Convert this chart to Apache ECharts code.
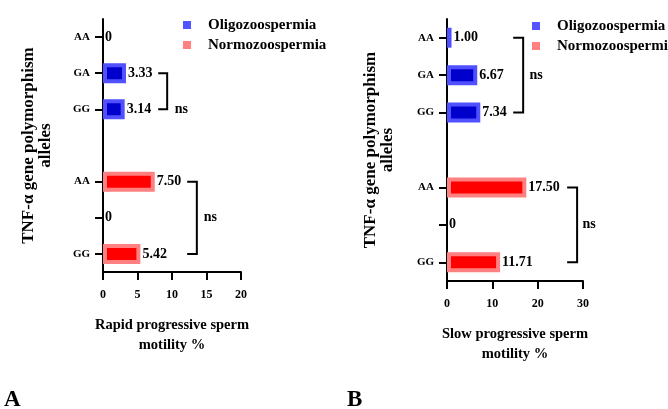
<!DOCTYPE html>
<html>
<head>
<meta charset="utf-8">
<script src="https://cdn.jsdelivr.net/npm/echarts@6/dist/echarts.min.js"></script>
<style>
  html, body { margin: 0; padding: 0; background: #fff; }
  #chart { width: 668px; height: 409px; }
</style>
</head>
<body>
<div id="chart"></div>
<script>
// rows top to bottom, index 3 is the gap between the two groups
const rows = ['AA', 'GA', 'GG', '', 'AA', '', 'GG']
const gapRow = 3

// A: rapid progressive motility
const rapidOligo = [0, 3.33, 3.14, null, null, null, null]
const rapidNormo = [null, null, null, null, 7.50, 0, 5.42]
// B: slow progressive motility
const slowOligo = [1.00, 6.67, 7.34, null, null, null, null]
const slowNormo = [null, null, null, null, 17.50, 0, 11.71]

const ticksA = { min: 0, max: 20, interval: 5 }
const ticksB = { min: 0, max: 30, interval: 10 }

// brackets: [stub start, line x, text x, from row, to row]
const bracketsA = [[8.0, 9.3, 10.4, 1, 2], [12.2, 13.6, 14.6, 4, 6]]
const bracketsB = [[14.6, 16.8, 18.2, 0, 2], [26.5, 28.7, 29.9, 4, 6]]

const FONT = "'Liberation Serif', 'Times New Roman', serif"
const BLUE = '#0000cc', BLUE_EDGE = '#5050ff'
const RED = '#ff0000', RED_EDGE = '#ff8080'

const chart = echarts.init(document.getElementById('chart'))

function barData(values) {
  // no border on zero bars so nothing is drawn
  return values.map(v => v === 0 ? { value: 0, itemStyle: { borderWidth: 0 } } : v)
}

function barSeries(name, values, idx, fill, edge) {
  return {
    name: name,
    type: 'bar',
    xAxisIndex: idx,
    yAxisIndex: idx,
    data: barData(values),
    barWidth: 20,
    barGap: '-100%',
    itemStyle: { color: fill, borderColor: edge, borderWidth: 4 },
    label: {
      show: true,
      position: 'right',
      distance: 2,
      fontFamily: FONT,
      fontWeight: 'bold',
      fontSize: 14,
      color: '#000',
      formatter: p => p.value === 0 ? '0' : p.value.toFixed(2)
    }
  }
}

function bracketSeries(data, idx) {
  return {
    type: 'custom',
    xAxisIndex: idx,
    yAxisIndex: idx,
    clip: false,
    silent: true,
    encode: { x: [0, 1, 2], y: [3, 4] },
    data: data,
    renderItem: function (params, api) {
      const a1 = api.coord([api.value(0), api.value(3)])
      const b1 = api.coord([api.value(1), api.value(3)])
      const a2 = api.coord([api.value(0), api.value(4)])
      const b2 = api.coord([api.value(1), api.value(4)])
      const t = api.coord([api.value(2), (api.value(3) + api.value(4)) / 2])
      return {
        type: 'group',
        children: [
          {
            type: 'polyline',
            shape: { points: [a1, b1, b2, a2] },
            style: { stroke: '#000', lineWidth: 2, fill: null }
          },
          {
            type: 'text',
            style: {
              text: 'ns', x: t[0], y: t[1],
              font: 'bold 14px ' + FONT, fill: '#000',
              verticalAlign: 'middle', align: 'left'
            }
          }
        ]
      }
    }
  }
}

function xAxis(idx, ticks, name) {
  return {
    type: 'value',
    gridIndex: idx,
    min: ticks.min, max: ticks.max, interval: ticks.interval,
    name: name,
    nameLocation: 'middle',
    nameGap: 43,
    nameTextStyle: { fontFamily: FONT, fontWeight: 'bold', fontSize: 14.5, color: '#000', lineHeight: 20 },
    splitLine: { show: false },
    axisLine: { show: true, lineStyle: { color: '#000', width: 2 } },
    axisTick: { show: true, length: 8, lineStyle: { color: '#000', width: 2 } },
    axisLabel: { margin: 17, fontFamily: FONT, fontWeight: 'bold', fontSize: 12, color: '#000' }
  }
}

function yAxis(idx, gap) {
  return {
    type: 'category',
    gridIndex: idx,
    data: rows,
    inverse: true,
    name: 'TNF-α gene polymorphism\nalleles',
    nameLocation: 'middle',
    nameRotate: 90,
    nameGap: gap,
    nameTextStyle: { fontFamily: FONT, fontWeight: 'bold', fontSize: 17, color: '#000', lineHeight: 17 },
    axisLine: { show: true, lineStyle: { color: '#000', width: 2 } },
    axisTick: {
      show: true, alignWithLabel: true, length: 8,
      interval: i => i !== gapRow,
      lineStyle: { color: '#000', width: 2 }
    },
    axisLabel: { interval: 0, margin: 13, fontFamily: FONT, fontWeight: 'bold', fontSize: 11, color: '#000' }
  }
}

function legend(left, top) {
  return {
    orient: 'vertical',
    left: left,
    top: top,
    icon: 'rect',
    itemWidth: 8,
    itemHeight: 8,
    itemGap: 4,
    textStyle: { fontFamily: FONT, fontWeight: 'bold', fontSize: 15, color: '#000', lineHeight: 16, padding: [0, 0, 0, 12] },
    data: [
      { name: 'Oligozoospermia', itemStyle: { color: '#5555ff', borderWidth: 0 } },
      { name: 'Normozoospermia', itemStyle: { color: RED_EDGE, borderWidth: 0 } }
    ]
  }
}

const option = {
  animation: false,
  legend: [legend(178, 12), legend(527, 13)],
  grid: [
    { left: 103, top: 19, width: 138, height: 253 },
    { left: 447, top: 19, width: 136, height: 262 }
  ],
  xAxis: [
    xAxis(0, ticksA, 'Rapid progressive sperm\nmotility %'),
    xAxis(1, ticksB, 'Slow progressive sperm\nmotility %')
  ],
  yAxis: [yAxis(0, 49), yAxis(1, 51)],
  series: [
    barSeries('Oligozoospermia', rapidOligo, 0, BLUE, BLUE_EDGE),
    barSeries('Normozoospermia', rapidNormo, 0, RED, RED_EDGE),
    barSeries('Oligozoospermia', slowOligo, 1, BLUE, BLUE_EDGE),
    barSeries('Normozoospermia', slowNormo, 1, RED, RED_EDGE),
    bracketSeries(bracketsA, 0),
    bracketSeries(bracketsB, 1)
  ],
  graphic: [
    { type: 'text', left: 4, top: 389, style: { text: 'A', font: 'bold 23px ' + FONT, fill: '#000' } },
    { type: 'text', left: 347, top: 389, style: { text: 'B', font: 'bold 23px ' + FONT, fill: '#000' } }
  ]
}

chart.setOption(option)
</script>
</body>
</html>
